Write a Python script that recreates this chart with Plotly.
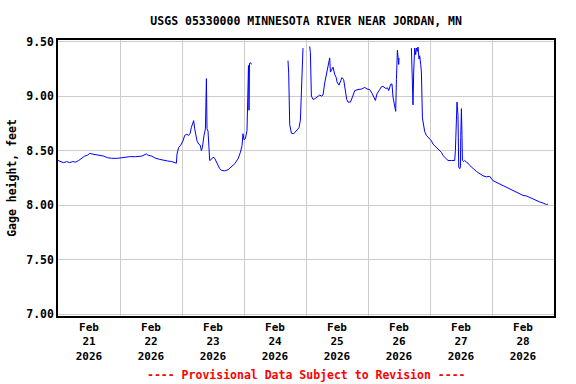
import pandas as pd
import plotly.graph_objects as go

# Hours since 2026-02-21 00:00 and gage height (feet); None marks gaps in the record
hours = [
    0.0, 1.05, 2.21, 3.37, 4.53, 5.69, 6.85, 8.01, 9.17, 10.33, 11.50, 12.27, 13.05, 14.21,
    16.14, 17.69, 19.24, 20.79, 23.11, 24.66, 26.21, 27.76, 30.08, 32.40, 34.22, 34.72,
    36.27, 37.82, 39.37, 40.92, 42.47, 44.02, 45.83, 46.07, 46.72, 47.50, 48.39, 49.05,
    49.82, 50.60, 51.18, 51.64, 52.14, 52.53, 52.92, 53.31, 53.81, 54.47, 55.05, 55.51,
    55.90, 56.52, 57.06, 57.45, 57.68, 58.07, 58.45, 58.72, 59.38, 60.00, 60.66, 61.32,
    61.94, 62.59, 63.25, 64.53, 65.81, 67.12, 68.40, 69.68, 70.61, 71.23, 71.61, 72.00,
    72.54, 73.16, 73.55, 73.74, 73.94, 74.13, 74.60, 74.86,
    80.0,
    89.03, 89.30, 89.69, 90.35, 91.24, 92.01, 92.52, 93.29, 93.83, 94.22, 94.45, 94.84,
    96.0,
    97.43, 97.70, 98.09, 98.71, 99.37, 100.03, 100.65, 101.31, 101.96, 102.58, 103.24,
    103.90, 104.28, 104.79, 105.17, 105.45, 105.95, 106.45, 107.11, 107.69, 108.00,
    108.77, 109.43, 109.94, 110.59, 111.25, 111.76, 112.26, 113.19, 113.96, 114.85,
    116.13, 117.56, 118.72, 119.61, 120.66, 121.70, 122.86, 123.48, 124.53, 125.19,
    125.81, 126.85, 127.63, 128.02, 128.79, 129.29, 129.68, 129.95, 130.34, 130.72,
    131.00, 131.38, 131.89, 132.00,
    134.0,
    136.80, 137.03, 137.42, 137.69, 138.07, 138.46, 138.74, 139.12, 139.36, 139.74,
    140.01, 140.40, 140.67, 141.06, 141.56, 141.95, 142.61, 143.23, 143.89, 144.54,
    145.16, 146.48, 147.76, 148.42, 149.04, 150.35, 150.97, 152.40, 153.56, 153.83,
    154.22, 154.45, 154.84, 155.11, 155.50, 155.77, 155.89, 156.16, 156.39, 156.54,
    157.05, 157.43, 158.09, 158.71, 159.37, 160.65, 161.96, 162.58, 163.63, 164.52,
    165.84, 167.11, 168.39, 169.71, 170.99, 172.26, 173.58, 174.86, 176.13, 177.45,
    178.73, 180.01, 181.32, 182.60, 183.88, 185.19, 186.47, 187.75, 189.06, 189.68,
]
gage_ft = [
    8.41, 8.40, 8.39, 8.40, 8.39, 8.40, 8.395, 8.41, 8.43, 8.45, 8.46, 8.475, 8.47, 8.465,
    8.46, 8.45, 8.435, 8.43, 8.43, 8.435, 8.44, 8.445, 8.445, 8.45, 8.47, 8.46,
    8.45, 8.43, 8.42, 8.41, 8.405, 8.40, 8.385, 8.47, 8.53, 8.55, 8.59, 8.64,
    8.65, 8.64, 8.66, 8.715, 8.745, 8.775, 8.70, 8.65, 8.59, 8.56, 8.55, 8.50,
    8.53, 8.64, 8.70, 9.16, 8.70, 8.68, 8.53, 8.41, 8.42, 8.44, 8.43, 8.40,
    8.37, 8.335, 8.32, 8.315, 8.325, 8.35, 8.38, 8.425, 8.485, 8.545, 8.655, 8.60,
    8.61, 8.685, 8.975, 9.28, 8.87, 9.30, 9.305, 9.29,
    None,
    9.325, 9.21, 8.74, 8.66, 8.655, 8.675, 8.69, 8.71, 8.78, 9.04, 9.35, 9.44,
    None,
    9.455, 9.40, 9.00, 8.97, 8.975, 8.985, 9.00, 9.01, 9.00, 9.01, 9.12,
    9.21, 9.255, 9.30, 9.35, 9.22, 9.25, 9.265, 9.20, 9.17, 9.13,
    9.10, 9.14, 9.17, 9.15, 9.04, 8.97, 8.945, 8.945, 8.99, 9.05,
    9.06, 9.065, 9.08, 9.065, 9.06, 9.02, 8.96, 9.02, 9.06, 9.085,
    9.09, 9.07, 9.075, 9.05, 9.11, 9.11, 8.99, 8.96, 8.90, 8.86,
    9.15, 9.42, 9.29, 9.35,
    None,
    9.44, 9.25, 8.92, 9.22, 9.44, 9.38, 9.44, 9.41, 9.45, 9.34,
    9.37, 9.29, 9.22, 8.80, 8.72, 8.675, 8.64, 8.625, 8.61, 8.59,
    8.56, 8.53, 8.50, 8.485, 8.455, 8.425, 8.41, 8.41, 8.41, 8.50,
    8.75, 8.945, 8.82, 8.35, 8.335, 8.35, 8.62, 8.885, 8.64, 8.41,
    8.40, 8.41, 8.395, 8.385, 8.365, 8.335, 8.31, 8.30, 8.285, 8.27,
    8.26, 8.265, 8.225, 8.21, 8.195, 8.18, 8.16, 8.15, 8.135, 8.12,
    8.10, 8.09, 8.085, 8.07, 8.055, 8.045, 8.03, 8.02, 8.007, 8.01,
]
y_ticks = [7.00, 7.50, 8.00, 8.50, 9.00, 9.50]
y_tick_text = ["7.00", "7.50", "8.00", "8.50", "9.00", "9.50"]

start = pd.Timestamp("2026-02-21 00:00")
times = [start + pd.to_timedelta(h, unit="h") for h in hours]

FONT = "DejaVu Sans Mono"

fig = go.Figure()
fig.add_trace(go.Scatter(
    x=times, y=gage_ft, mode="lines",
    line=dict(color="#0000FF", width=1),
    connectgaps=False, showlegend=False,
))

fig.update_layout(
    width=576, height=384,
    margin=dict(l=58, r=22, t=40, b=68),
    paper_bgcolor="white", plot_bgcolor="white",
    font=dict(family=FONT, size=11.5, color="black", weight="bold"),
    title=dict(
        text="USGS 05330000 MINNESOTA RIVER NEAR JORDAN, MN",
        x=0.5315, xanchor="center", y=0.945, yanchor="middle",
        font=dict(family=FONT, size=11.5, color="black", weight="bold"),
    ),
    xaxis=dict(
        type="date",
        range=["2026-02-21 00:00", "2026-03-01 00:00"],
        tick0="2026-02-21", dtick=86400000,
        ticklabelmode="period",
        tickformat="%b<br>%d<br>%Y",
        showgrid=True, gridcolor="#CCCCCC", gridwidth=1,
        showline=True, linecolor="black", linewidth=1.5, mirror=True,
        ticks="", zeroline=False,
        tickfont=dict(family=FONT, size=11, color="black", weight="bold"),
    ),
    yaxis=dict(
        range=[6.985, 9.514],
        tickvals=y_ticks, ticktext=y_tick_text,
        showgrid=True, gridcolor="#CCCCCC", gridwidth=1,
        showline=True, linecolor="black", linewidth=1.5, mirror=True,
        ticks="", zeroline=False,
        tickfont=dict(family=FONT, size=11.5, color="black", weight="bold"),
        title=dict(text="Gage height, feet", standoff=7,
                   font=dict(family=FONT, size=11.5, color="black", weight="bold")),
    ),
    annotations=[dict(
        text="---- Provisional Data Subject to Revision ----",
        xref="paper", yref="paper", x=0.5, y=-0.215, xanchor="center", yanchor="middle",
        showarrow=False,
        font=dict(family=FONT, size=11.5, color="#FF0000", weight="bold"),
    )],
)

fig.write_html("out.html", config={"displayModeBar": False},
               post_script="document.body.style.margin='0px';")
